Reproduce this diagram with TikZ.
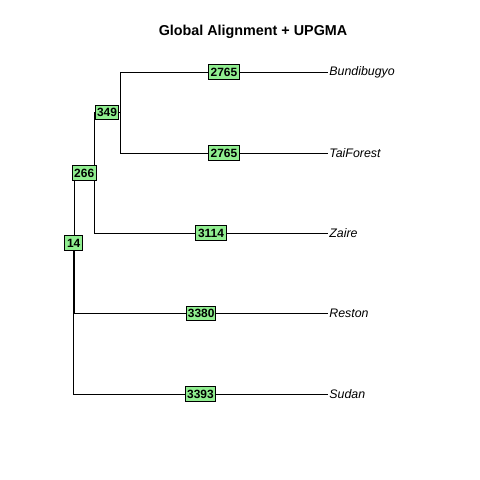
\documentclass[tikz,border=0pt]{standalone}
\usepackage{fontspec}
\setmainfont{Liberation Sans}

\definecolor{lightgreen}{HTML}{90EE90}

\tikzset{
  branch/.style={line width=0.7pt},
  elab/.style={draw, fill=lightgreen, line width=0.7pt, inner xsep=1.5pt, inner ysep=2.2pt,
    font=\fontsize{8.5}{9}\selectfont\bfseries},
  elabthin/.style={elab, inner xsep=1pt, font=\fontsize{8.5}{9}\selectfont\bfseries},
  tiplab/.style={anchor=west, inner sep=0.8pt, font=\fontsize{8.8}{9}\selectfont\itshape}
}

\begin{document}
\begin{tikzpicture}[x=0.025cm, y=-0.025cm]

\useasboundingbox (0,0) rectangle (480,480);

\node[font=\fontsize{10.2}{12}\selectfont\bfseries] (title) at (253, 32) {Global Alignment + UPGMA};

%Tree nodes
\coordinate (root) at (73, 243);
\coordinate (n14) at (74.4, 243);
\coordinate (n266) at (94, 173);
\coordinate (n349) at (120, 112.5);

%Tips
\node[tiplab] (bundi) at (328, 72) {Bundibugyo};
\node[tiplab] (tai) at (328, 153) {TaiForest};
\node[tiplab] (zaire) at (328, 233) {Zaire};
\node[tiplab] (reston) at (328, 313.5) {Reston};
\node[tiplab] (sudan) at (328, 394) {Sudan};

%Draw branches
\draw[branch] (n349) |- (bundi.west);
\draw[branch] (n349) |- (tai.west);
\draw[branch] (n266) |- (n349);
\draw[branch] (n266) |- (zaire.west);
\draw[branch] (n14) |- (n266);
\draw[branch] (n14) |- (reston.west);
\draw[branch] (root) |- (n14);
\draw[branch] (root) |- (sudan.west);

%Draw edge labels
\path (n349) |- (bundi.west) node[pos=0.75, elab] (l1) {2765};
\path (n349) |- (tai.west) node[pos=0.75, elab] (l2) {2765};
\path (n266) |- (n349) node[pos=0.75, elabthin] (l3) {349};
\path (n266) |- (zaire.west) node[pos=0.75, elab] (l4) {3114};
\path (n14) |- (n266) node[pos=0.75, elab] (l5) {266};
\path (n14) |- (reston.west) node[pos=0.75, elabthin] (l6) {3380};
\path (root) |- (n14) node[pos=0.75, elab] (l7) {14};
\path (root) |- (sudan.west) node[pos=0.75, elabthin] (l8) {3393};

\end{tikzpicture}
\end{document}
